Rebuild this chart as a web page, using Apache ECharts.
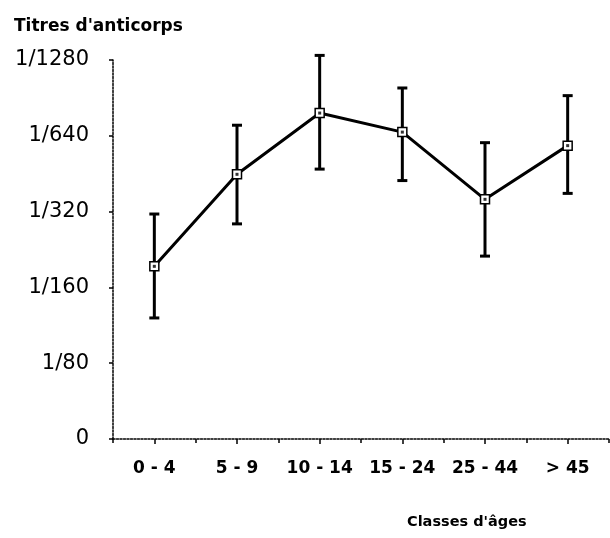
<!DOCTYPE html>
<html>
<head>
<meta charset="utf-8">
<script src="https://cdn.jsdelivr.net/npm/echarts@6/dist/echarts.min.js"></script>
<style>
html,body{margin:0;padding:0;background:#fff;}
#chart{width:610px;height:538px;}
</style>
</head>
<body>
<div id="chart"></div>
<script>
// Age classes
var categories = ['0 - 4', '5 - 9', '10 - 14', '15 - 24', '25 - 44', '> 45'];
// Y tick labels (antibody titres)
var titreLabels = ['0', '1/80', '1/160', '1/320', '1/640', '1/1280'];
// Reciprocal antibody titres (mean, lower and upper end of error bar)
var meanTitre  = [194, 450, 788, 662, 358, 585];
var lowerTitre = [121, 286, 472, 425, 213, 378];
var upperTitre = [313, 705, 1335, 991, 601, 924];

// axis level: 1/80 -> 1, 1/160 -> 2, ... (log2 scale)
function level(t) { return Math.log(t / 40) / Math.LN2; }

var meanData = meanTitre.map(function (t, i) { return [i, level(t)]; });
var errData = categories.map(function (c, i) { return [i, level(lowerTitre[i]), level(upperTitre[i])]; });

var FONT = 'DejaVu Sans';
var chart = echarts.init(document.getElementById('chart'), null, {renderer: 'canvas'});
chart.setOption({
  animation: false,
  backgroundColor: '#fff',
  title: {
    text: "Titres d'anticorps",
    left: 9, top: 13,
    textStyle: {fontFamily: FONT, fontSize: 17, fontWeight: 'bold', color: '#000'}
  },
  grid: {left: 113, top: 60, width: 496, height: 379},
  xAxis: [{
    type: 'category',
    data: categories,
    boundaryGap: true,
    axisLine: {lineStyle: {color: '#000', width: 1.5, type: [2, 1.5]}},
    axisTick: {show: true, alignWithLabel: true, length: 5, lineStyle: {color: '#000', width: 1.5}},
    axisLabel: {interval: 0, margin: 21, color: '#000', fontFamily: FONT, fontSize: 17, fontWeight: 'bold'},
    name: "Classes d'âges",
    nameLocation: 'end',
    nameGap: 0,
    nameTextStyle: {fontFamily: FONT, fontSize: 14.5, fontWeight: 'bold', color: '#000',
      align: 'left', verticalAlign: 'top', padding: [76, 0, 0, -202]},
    splitLine: {show: false}
  }, {
    type: 'category',
    data: categories,
    position: 'bottom',
    boundaryGap: true,
    axisLine: {show: false},
    axisTick: {show: true, interval: 0, alignWithLabel: false, length: 4, lineStyle: {color: '#000', width: 1.5}},
    axisLabel: {show: false},
    splitLine: {show: false}
  }],
  yAxis: {
    type: 'value',
    min: 0, max: 5, interval: 1,
    axisLine: {show: true, lineStyle: {color: '#000', width: 1.5, type: [2, 1.5]}},
    axisTick: {show: true, length: 4, lineStyle: {color: '#000', width: 1.5}},
    axisLabel: {margin: 24, color: '#000', fontFamily: FONT, fontSize: 21,
      formatter: function (v) { return titreLabels[Math.round(v)]; }},
    splitLine: {show: false}
  },
  series: [{
    type: 'custom',
    xAxisIndex: 0,
    data: errData,
    z: 2,
    renderItem: function (params, api) {
      var x = api.value(0);
      var lo = api.coord([x, api.value(1)]);
      var hi = api.coord([x, api.value(2)]);
      var cap = 5;
      var st = {stroke: '#000', lineWidth: 3};
      return {
        type: 'group',
        children: [
          {type: 'line', shape: {x1: lo[0], y1: lo[1], x2: hi[0], y2: hi[1]}, style: st},
          {type: 'line', shape: {x1: lo[0] - cap, y1: lo[1], x2: lo[0] + cap, y2: lo[1]}, style: st},
          {type: 'line', shape: {x1: hi[0] - cap, y1: hi[1], x2: hi[0] + cap, y2: hi[1]}, style: st}
        ]
      };
    }
  }, {
    type: 'line',
    xAxisIndex: 0,
    data: meanData,
    z: 3,
    lineStyle: {color: '#000', width: 3},
    symbol: 'rect',
    symbolSize: 9,
    showAllSymbol: true,
    itemStyle: {color: '#fff', borderColor: '#000', borderWidth: 1.5}
  }, {
    type: 'scatter',
    xAxisIndex: 0,
    data: meanData,
    z: 4,
    symbol: 'rect',
    symbolSize: 3,
    itemStyle: {color: '#000'}
  }]
});
</script>
</body>
</html>
